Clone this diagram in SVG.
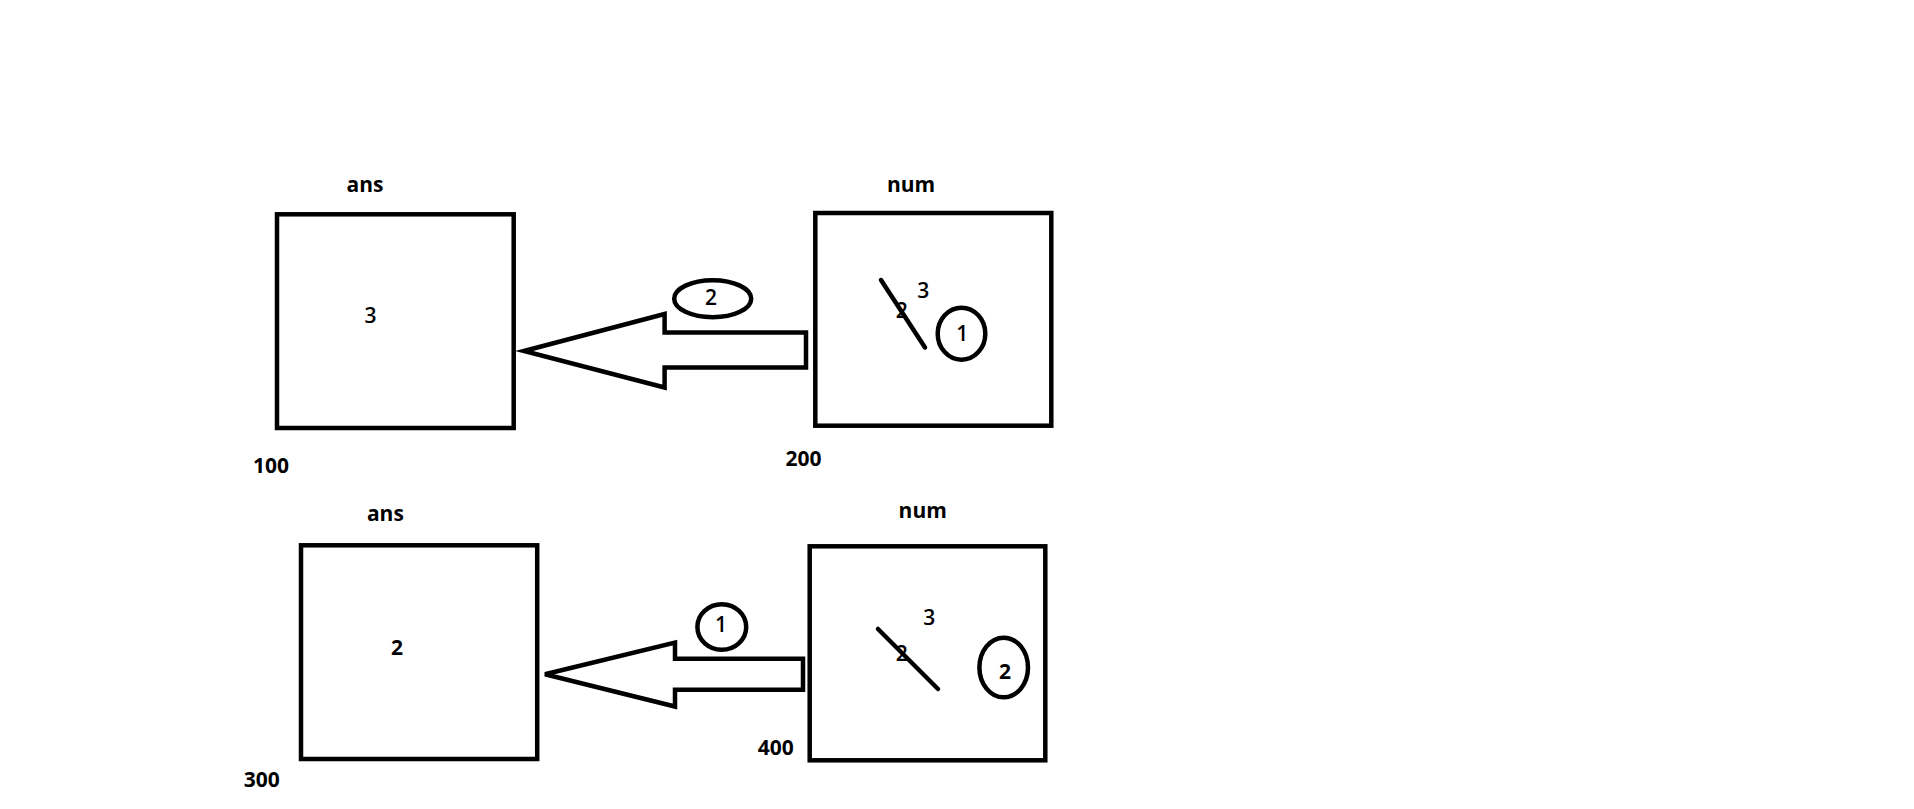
<svg xmlns="http://www.w3.org/2000/svg" width="1914" height="809" viewBox="0 0 1914 809">
<style>
.box{fill:none;stroke:#000;stroke-width:4.5}
.shp{fill:none;stroke:#000;stroke-width:4.5}
.arr{fill:#fff;stroke:#000;stroke-width:4.5;stroke-linejoin:miter}
.ln{stroke:#000;stroke-width:4.5;stroke-linecap:round}
text{font-family:"Open Sans","Noto Sans","DejaVu Sans",sans-serif;font-size:21px;fill:#000}
.b{font-weight:bold}
.sb{font-weight:600}
.m{text-anchor:middle}
</style>
<rect width="1914" height="809" fill="#fff"/>
<g id="connectors">
<polygon class="arr" points="524,351 664.6,314 664.6,332.5 806,332.5 806,367.5 664.6,367.5 664.6,387.5"/>
<polygon class="arr" points="545,674.3 675,642.5 675,658.7 803,658.7 803,689.7 675,689.7 675,706.5"/>
<ellipse class="shp" cx="712.7" cy="298.7" rx="38.5" ry="18.5"/>
<text class="m sb" x="711" y="305">2</text>
<ellipse class="shp" cx="721.8" cy="627" rx="24.4" ry="22.7"/>
<text class="m sb" x="721.1" y="632">1</text>
</g>
<g id="ans1">
<text class="m b" x="365" y="192">ans</text>
<rect class="box" x="277" y="214.3" width="236.7" height="213.7"/>
<text class="m sb" x="370.4" y="322.5">3</text>
<text class="b" x="253" y="473">100</text>
</g>
<g id="num1">
<text class="m b" x="911" y="192">num</text>
<rect class="box" x="815.3" y="213" width="236" height="212.7"/>
<line class="ln" x1="881" y1="280" x2="925" y2="347.5"/>
<text class="m sb" x="923.3" y="297.5">3</text>
<text class="m sb" x="901.7" y="318">2</text>
<ellipse class="shp" cx="961.5" cy="333.7" rx="23.8" ry="26"/>
<text class="m sb" x="962.3" y="341">1</text>
<text class="b" x="785.5" y="466">200</text>
</g>
<g id="ans2">
<text class="m b" x="385.4" y="520.7">ans</text>
<rect class="box" x="301" y="545.3" width="236.2" height="213.7"/>
<text class="m b" x="397.1" y="654.5">2</text>
<text class="b" x="243.8" y="787">300</text>
</g>
<g id="num2">
<text class="m b" x="922.7" y="518.3">num</text>
<rect class="box" x="809.7" y="546.3" width="235.6" height="214"/>
<line class="ln" x1="878" y1="629" x2="938" y2="689"/>
<text class="m sb" x="929.3" y="625.3">3</text>
<text class="m sb" x="901.7" y="661">2</text>
<ellipse class="shp" cx="1003.7" cy="667.5" rx="24.3" ry="29.8"/>
<text class="m b" x="1005" y="678.6">2</text>
<text class="b" x="757.8" y="755.3">400</text>
</g>
</svg>
